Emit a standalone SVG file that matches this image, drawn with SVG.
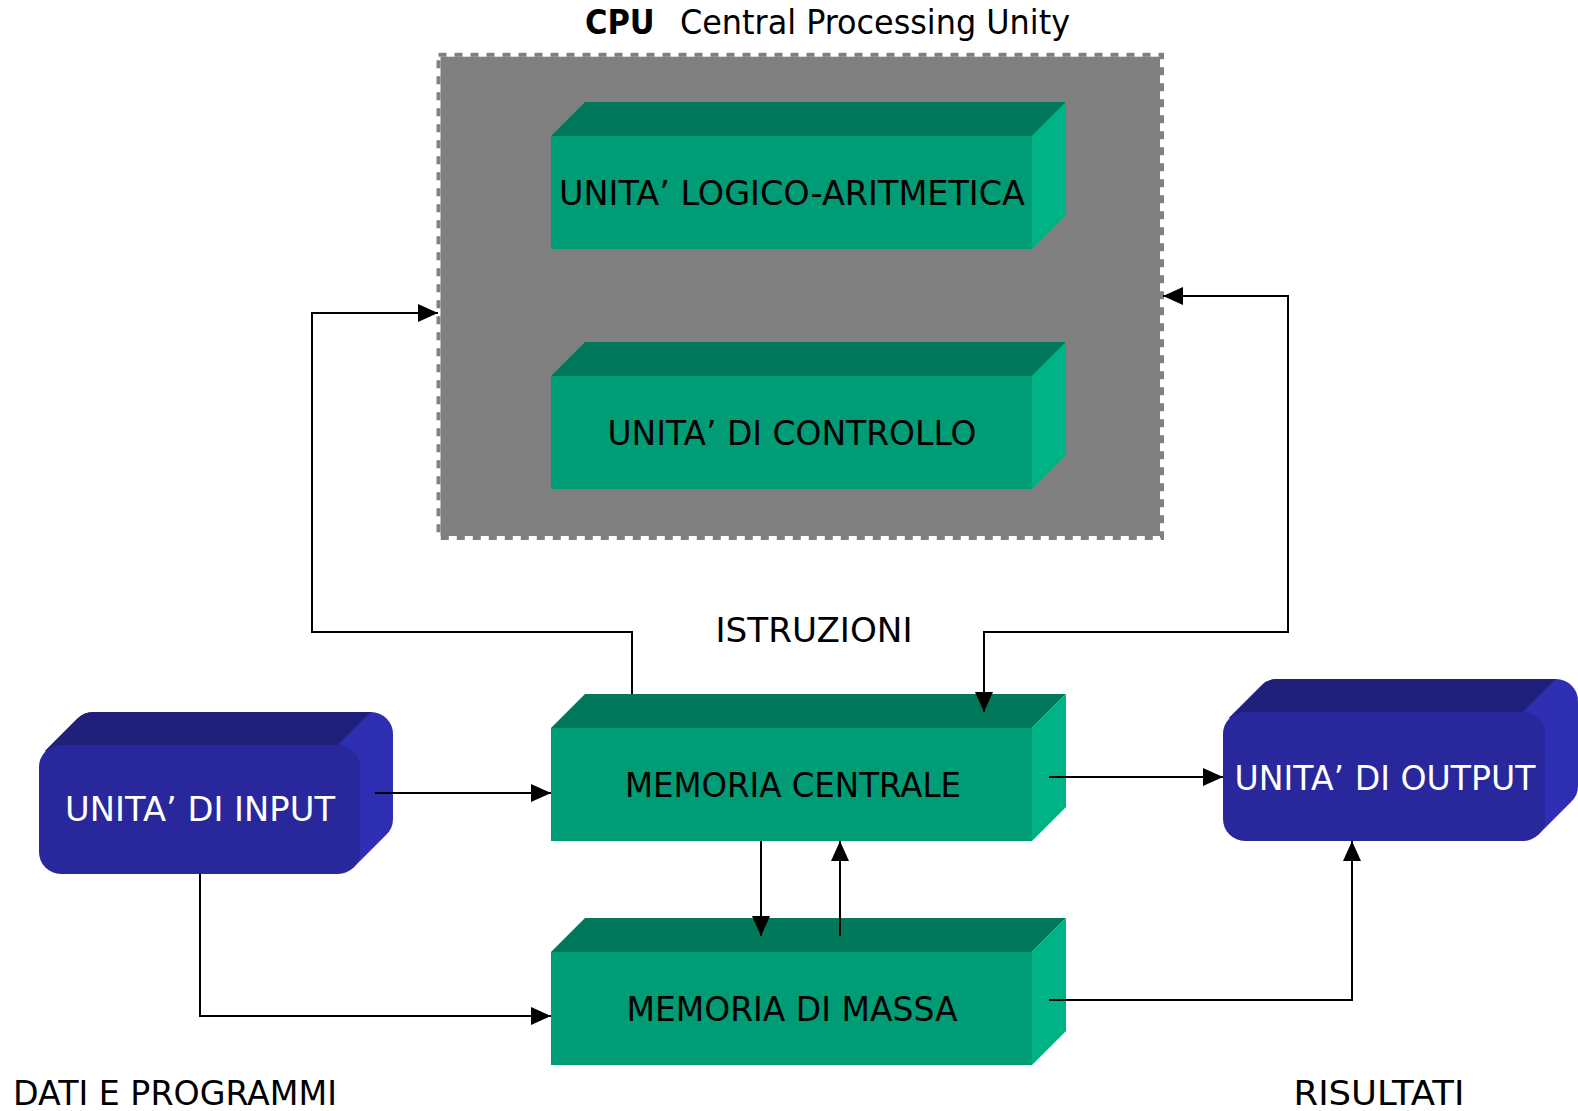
<svg xmlns="http://www.w3.org/2000/svg" width="1578" height="1111" viewBox="0 0 1578 1111">
<defs>
<style>
.lbl{font-family:"DejaVu Sans","Liberation Sans",sans-serif;font-size:33px;text-anchor:middle;}
.blk{fill:#000;}
.wht{fill:#fff;}
.gfront{fill:#009C76;}
.gtop{fill:#00795A;}
.gside{fill:#00B386;}
.bfront{fill:#28289C;}
.btop{fill:#20207A;}
.bside{fill:#2E2EB2;}
.conn{fill:none;stroke:#000;stroke-width:2;}
</style>
<marker id="arr" viewBox="0 0 10 10" refX="10" refY="5" markerUnits="userSpaceOnUse" markerWidth="20" markerHeight="18" orient="auto-start-reverse" preserveAspectRatio="none">
<path d="M0,0 L10,5 L0,10 Z" fill="#000"/>
</marker>
</defs>
<rect width="1578" height="1111" fill="#fff"/>

<g id="title">
<text x="585" y="34" font-family="'DejaVu Sans','Liberation Sans',sans-serif" font-size="34" font-weight="bold" font-stretch="condensed">CPU</text>
<text x="680" y="34" font-family="'DejaVu Sans','Liberation Sans',sans-serif" font-size="34" font-stretch="condensed" textLength="390" lengthAdjust="spacingAndGlyphs">Central Processing Unity</text>
</g>

<g id="cpu">
<rect x="438.5" y="54.7" width="723.5" height="483.3" fill="#808080" stroke="#fff" stroke-width="4"/>
<rect x="438.5" y="54.7" width="723.5" height="483.3" fill="none" stroke="#808080" stroke-width="4" stroke-dasharray="8 8"/>
</g>

<g id="alu">
<polygon class="gtop" points="551,136 585,102 1066,102 1032,136"/>
<polygon class="gside" points="1032,136 1066,102 1066,215 1032,249"/>
<rect class="gfront" x="551" y="136" width="481" height="113"/>
<text class="lbl blk" x="792" y="205" textLength="466" lengthAdjust="spacingAndGlyphs">UNITA’ LOGICO-ARITMETICA</text>
</g>

<g id="controllo">
<polygon class="gtop" points="551,376 585,342 1066,342 1032,376"/>
<polygon class="gside" points="1032,376 1066,342 1066,455 1032,489"/>
<rect class="gfront" x="551" y="376" width="481" height="113"/>
<text class="lbl blk" x="792" y="445" textLength="369" lengthAdjust="spacingAndGlyphs">UNITA’ DI CONTROLLO</text>
</g>

<g id="memoria-centrale">
<polygon class="gtop" points="551,728 585,694 1066,694 1032,728"/>
<polygon class="gside" points="1032,728 1066,694 1066,807 1032,841"/>
<rect class="gfront" x="551" y="728" width="481" height="113"/>
<text class="lbl blk" x="793" y="797" textLength="336" lengthAdjust="spacingAndGlyphs">MEMORIA CENTRALE</text>
</g>

<g id="memoria-massa">
<polygon class="gtop" points="551,952 585,918 1066,918 1032,952"/>
<polygon class="gside" points="1032,952 1066,918 1066,1031 1032,1065"/>
<rect class="gfront" x="551" y="952" width="481" height="113"/>
<text class="lbl blk" x="792" y="1021" textLength="331" lengthAdjust="spacingAndGlyphs">MEMORIA DI MASSA</text>
</g>

<g id="input">
<path class="bside" d="M45,751 L78,718 A22,22 0 0 1 94,712 L371,712 A22,22 0 0 1 393,734 L393,819 A22,22 0 0 1 386,835 L353,868 Z"/>
<path class="btop" d="M45,751 L78,718 A22,22 0 0 1 94,712 L371,712 L338,745 Z"/>
<rect class="bfront" x="39" y="745" width="321" height="129" rx="22" ry="22"/>
<text class="lbl wht" x="200" y="821" textLength="270" lengthAdjust="spacingAndGlyphs">UNITA’ DI INPUT</text>
</g>

<g id="output">
<path class="bside" d="M1229,718 L1262,685 A22,22 0 0 1 1278,679 L1556,679 A22,22 0 0 1 1578,701 L1578,786 A22,22 0 0 1 1571,802 L1538,835 Z"/>
<path class="btop" d="M1229,718 L1262,685 A22,22 0 0 1 1278,679 L1556,679 L1523,712 Z"/>
<rect class="bfront" x="1223" y="712" width="322" height="129" rx="22" ry="22"/>
<text class="lbl wht" x="1385" y="790" textLength="301" lengthAdjust="spacingAndGlyphs">UNITA’ DI OUTPUT</text>
</g>

<g id="connectors">
<path class="conn" d="M632,694 V632 H312 V313 H438" marker-end="url(#arr)"/>
<path class="conn" d="M1163,296 H1288 V632 H984 V712" marker-start="url(#arr)" marker-end="url(#arr)"/>
<path class="conn" d="M375,793 H551" marker-end="url(#arr)"/>
<path class="conn" d="M200,874 V1016 H551" marker-end="url(#arr)"/>
<path class="conn" d="M761,841 V936" marker-end="url(#arr)"/>
<path class="conn" d="M840,936 V841" marker-end="url(#arr)"/>
<path class="conn" d="M1049,777 H1223" marker-end="url(#arr)"/>
<path class="conn" d="M1049,1000 H1352 V841" marker-end="url(#arr)"/>
</g>

<g id="labels">
<text class="lbl blk" x="814" y="642" textLength="197" lengthAdjust="spacingAndGlyphs">ISTRUZIONI</text>
<text class="lbl blk" x="175" y="1105" textLength="324" lengthAdjust="spacingAndGlyphs">DATI E PROGRAMMI</text>
<text class="lbl blk" x="1379" y="1105" textLength="171" lengthAdjust="spacingAndGlyphs">RISULTATI</text>
</g>
</svg>
